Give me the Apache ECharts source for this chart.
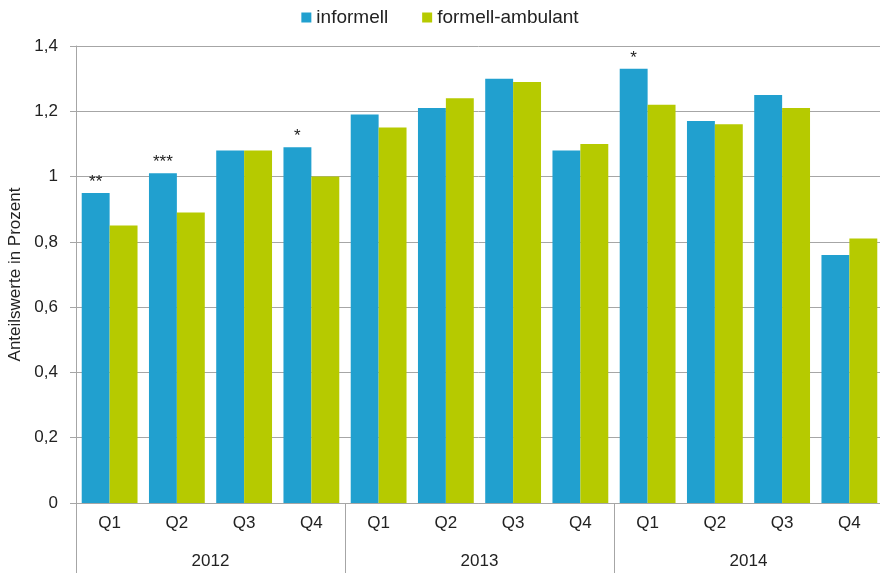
<!DOCTYPE html>
<html><head><meta charset="utf-8">
<script src="https://cdn.jsdelivr.net/npm/echarts@6/dist/echarts.min.js"></script>
<style>html,body{margin:0;padding:0;background:#fff}#c{width:880px;height:573px}</style>
</head><body><div id="c"></div>
<script>
const quarters = ['Q1','Q2','Q3','Q4','Q1','Q2','Q3','Q4','Q1','Q2','Q3','Q4'];
const years = ['2012','2013','2014'];
const informell = [0.95,1.01,1.08,1.09,1.19,1.21,1.30,1.08,1.33,1.17,1.25,0.76];
const formell = [0.85,0.89,1.08,1.00,1.15,1.24,1.29,1.10,1.22,1.16,1.21,0.81];
const stars = ['**','***','','*','','','','','*','','',''];
const yTicks = [0,0.2,0.4,0.6,0.8,1,1.2,1.4];

const font = 'Liberation Sans, Arial, sans-serif';
const chart = echarts.init(document.getElementById('c'));
chart.setOption({
  animation:false,
  textStyle:{fontFamily:font},
  legend:{top:3,left:'center',itemWidth:10,itemHeight:10,itemGap:34,icon:'rect',
    textStyle:{fontSize:19,color:'#222',fontFamily:font},
    data:['informell','formell-ambulant']},
  grid:{left:76,top:46,width:807,height:457,outerBoundsMode:'none',containLabel:false},
  xAxis:[
    {type:'category',data:quarters,position:'bottom',
     axisLine:{lineStyle:{color:'#a6a6a6'}},axisTick:{show:false},
     axisLabel:{margin:12,fontSize:17,color:'#222'}},
    {type:'category',data:years,position:'bottom',gridIndex:0,
     axisLine:{show:false},
     axisTick:{show:true,length:70,inside:false,lineStyle:{color:'#a6a6a6'}},
     axisLabel:{margin:50,fontSize:17,color:'#222'}}
  ],
  yAxis:{type:'value',min:0,max:1.4,interval:0.2,
    name:'Anteilswerte in Prozent',nameLocation:'middle',nameGap:50,
    nameTextStyle:{fontSize:17,color:'#222',fontFamily:font},
    axisLine:{show:true,lineStyle:{color:'#a6a6a6'}},
    axisTick:{show:true,length:6,lineStyle:{color:'#a6a6a6'}},
    splitLine:{lineStyle:{color:'#a6a6a6'}},
    axisLabel:{fontSize:17,color:'#222',margin:18,
      formatter:v=>{const t=yTicks.find(x=>Math.abs(x-v)<1e-9);return String(t!==undefined?t:v).replace('.',',');}}},
  series:[
    {name:'informell',type:'bar',data:informell,barGap:'0%',barCategoryGap:'17%',
     itemStyle:{color:'#21a0cf'},
     label:{show:true,position:'top',distance:2,fontSize:17,color:'#222',
       formatter:p=>stars[p.dataIndex]}},
    {name:'formell-ambulant',type:'bar',data:formell,itemStyle:{color:'#b6ca00'}}
  ]
});
</script></body></html>
